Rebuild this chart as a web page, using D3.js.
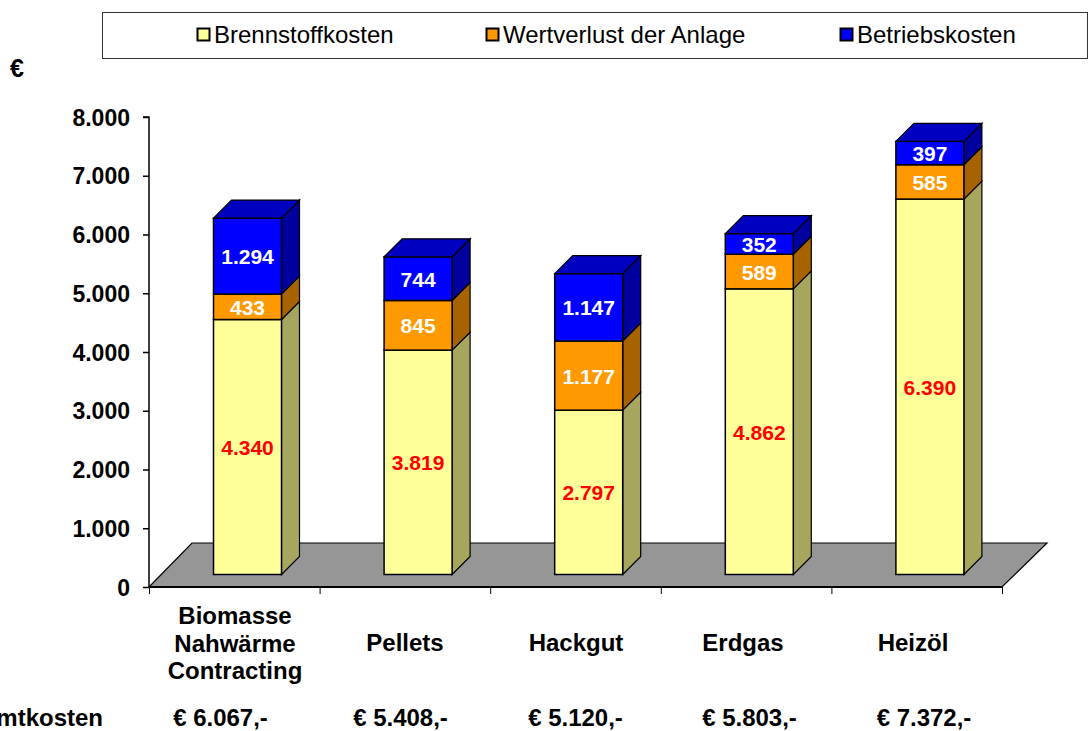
<!DOCTYPE html>
<meta charset="utf-8">
<title>Kostenvergleich</title>
<style>

body {
  margin: 0;
  background: #fff;
}

svg {
  display: block;
}

text {
  font-family: "Liberation Sans", Arial, sans-serif;
}

.bold text, text.bold {
  font-weight: bold;
}

</style>
<body>
<script src="https://d3js.org/d3.v7.min.js"></script>
<script>

var categories = [["Biomasse", "Nahwärme", "Contracting"], ["Pellets"], ["Hackgut"], ["Erdgas"], ["Heizöl"]];
var brennstoff = [4340, 3819, 2797, 4862, 6390];
var wertverlust = [433, 845, 1177, 589, 585];
var betrieb = [1294, 744, 1147, 352, 397];
var gesamt = [6067, 5408, 5120, 5803, 7372];
var yTicks = [0, 1000, 2000, 3000, 4000, 5000, 6000, 7000, 8000];
var seriesNames = ["Brennstoffkosten", "Wertverlust der Anlage", "Betriebskosten"];

var w = 1088,
    h = 731,
    barW = 68,
    depth = 18,
    floorD = 44,
    bottom = 587;

var colors = [
  {front: "#ffff99", side: "#a6a65f", top: "#c0c070", label: "#f00"},
  {front: "#ff9900", side: "#a66300", top: "#c07000", label: "#fff"},
  {front: "#0000ff", side: "#00009f", top: "#0000c0", label: "#fff"}
];

// the labels under the chart sit in their own text boxes, not quite on the bands
var catX = [235, 405, 576, 743, 913],
    totalX = [220.5, 400.5, 575.5, 749.5, 924],
    legendX = [197, 486, 840];

var svg = d3.select("body").append("svg")
    .attr("width", w)
    .attr("height", h);

var de = d3.formatLocale({decimal: ",", thousands: ".", grouping: [3], currency: ["€", ""]}).format(",d");

var x = d3.scaleBand()
    .domain(d3.range(categories.length))
    .range([149, 1002]);

var y = d3.scaleLinear()
    .domain([0, 8000])
    .range([bottom, 117]);

// floor
var floorPts = [[149, bottom], [149 + floorD - 1, bottom - floorD], [1002 + floorD + 1, bottom - floorD], [1002, bottom]];
svg.append("polygon")
    .attr("points", floorPts.join(" "))
    .attr("fill", "#969696")
    .attr("stroke", "#000")
    .attr("stroke-width", 1.2);
svg.append("line")
    .attr("x1", 149).attr("x2", 1002)
    .attr("y1", bottom).attr("y2", bottom)
    .attr("stroke", "#000")
    .attr("stroke-width", 2);

// bars
var lift = 12.5;
var stacked = d3.stack().keys([0, 1, 2]).value(function(d, k) { return d[k]; })(
    d3.transpose([brennstoff, wertverlust, betrieb]));

function barLeft(i) { return x(i) + x.bandwidth() / 2 - barW / 2 + 13.2; }
function yy(v) { return y(v) - lift; }

stacked.forEach(function(layer, k) {
  var g = svg.append("g");
  layer.forEach(function(d, i) {
    var x0 = barLeft(i), x1 = x0 + barW, y0 = yy(d[0]), y1 = yy(d[1]);
    g.append("polygon")
        .attr("points", [[x1, y0], [x1 + depth, y0 - depth], [x1 + depth, y1 - depth], [x1, y1]].join(" "))
        .attr("fill", colors[k].side)
        .attr("stroke", "#000")
        .attr("stroke-width", 1.2);
    g.append("rect")
        .attr("x", x0)
        .attr("y", y1)
        .attr("width", barW)
        .attr("height", y0 - y1)
        .attr("fill", colors[k].front)
        .attr("stroke", "#000")
        .attr("stroke-width", 1.5);
    if (k == 2) {
      g.append("polygon")
          .attr("points", [[x0, y1], [x0 + depth, y1 - depth], [x1 + depth, y1 - depth], [x1, y1]].join(" "))
          .attr("fill", colors[k].top)
          .attr("stroke", "#000")
          .attr("stroke-width", 1.2);
    }
  });
});

// value labels go on top of everything
stacked.forEach(function(layer, k) {
  svg.append("g").attr("class", "bold").selectAll("text")
      .data(layer)
    .enter().append("text")
      .attr("x", function(d, i) { return barLeft(i) + barW / 2; })
      .attr("y", function(d) { return (yy(d[0]) + yy(d[1])) / 2 + 8; })
      .attr("text-anchor", "middle")
      .attr("font-size", 21)
      .attr("fill", colors[k].label)
      .text(function(d) { return de(d[1] - d[0]); });
});

// axes
var yAxis = svg.append("g")
    .attr("class", "bold")
    .attr("transform", "translate(149,0)")
    .call(d3.axisLeft(y).tickValues(yTicks).tickSize(6).tickFormat(de));
yAxis.selectAll("path, line").attr("stroke", "#000").attr("stroke-width", 1.5);
yAxis.select(".domain").attr("d", "M-6," + y(8000) + "H0V" + bottom);
yAxis.selectAll("text")
    .attr("font-size", 23)
    .attr("font-family", null)
    .attr("fill", "#000")
    .attr("x", -19)
    .attr("dy", "0.35em");

var xAxis = svg.append("g")
    .attr("transform", "translate(0," + bottom + ")")
    .call(d3.axisBottom(d3.scaleLinear().domain([0, categories.length]).range(x.range()))
      .ticks(categories.length).tickSize(7).tickFormat(""));
xAxis.select(".domain").remove();
xAxis.selectAll("line").attr("stroke", "#000").attr("stroke-width", 1);

// category labels
svg.append("g").attr("class", "bold").selectAll("text")
    .data(categories)
  .enter().append("text")
    .attr("text-anchor", "middle")
    .attr("font-size", 24)
    .attr("y", function(d) { return d.length > 1 ? 624 : 651; })
    .each(function(d, i) {
      d3.select(this).selectAll("tspan")
          .data(d)
        .enter().append("tspan")
          .attr("x", catX[i])
          .attr("dy", function(t, j) { return j ? 27.5 : 0; })
          .text(function(t) { return t; });
    });

// totals row
svg.append("text")
    .attr("class", "bold")
    .attr("x", 103)
    .attr("y", 726)
    .attr("text-anchor", "end")
    .attr("font-size", 24)
    .text("Gesamtkosten");

svg.append("g").attr("class", "bold").selectAll("text")
    .data(gesamt)
  .enter().append("text")
    .attr("x", function(d, i) { return totalX[i]; })
    .attr("y", 726)
    .attr("text-anchor", "middle")
    .attr("font-size", 24)
    .text(function(d) { return "€ " + de(d) + ",-"; });

svg.append("text")
    .attr("class", "bold")
    .attr("x", 10)
    .attr("y", 77)
    .attr("font-size", 25)
    .text("€");

// legend
svg.append("rect")
    .attr("x", 102.5)
    .attr("y", 12.5)
    .attr("width", 985)
    .attr("height", 46)
    .attr("fill", "#fff")
    .attr("stroke", "#333")
    .attr("stroke-width", 1);

var legend = svg.selectAll(".legend")
    .data(seriesNames)
  .enter().append("g")
    .attr("class", "legend")
    .attr("transform", function(d, i) { return "translate(" + legendX[i] + ",0)"; });

legend.append("rect")
    .attr("x", 0.5)
    .attr("y", 28.5)
    .attr("width", 12)
    .attr("height", 12)
    .attr("fill", function(d, i) { return colors[i].front; })
    .attr("stroke", "#000")
    .attr("stroke-width", 2);

legend.append("text")
    .attr("x", 17)
    .attr("y", 43)
    .attr("font-size", 24)
    .attr("fill", "#000")
    .text(function(d) { return d; });

</script>
